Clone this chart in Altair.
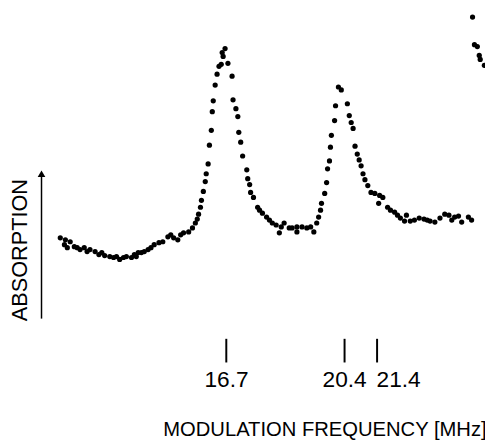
import altair as alt
import pandas as pd

# Frequencies (MHz) and absorption (arbitrary units)
freq = [11.51, 11.64, 11.67, 11.73, 11.82, 11.95, 12.04, 12.13, 12.26, 12.35,
        12.44, 12.60, 12.72, 12.81, 12.90, 13.06, 13.18, 13.27, 13.37, 13.49,
        13.58, 13.74, 13.83, 13.89, 13.95, 14.05, 14.14, 14.26, 14.35, 14.45,
        14.60, 14.72, 14.88, 14.97, 15.06, 15.19, 15.28, 15.37, 15.53, 15.65,
        15.74, 15.80, 15.84, 15.90, 15.93, 15.99, 16.05, 16.08, 16.14, 16.18,
        16.24, 16.27, 16.30, 16.36, 16.42, 16.48, 16.55, 16.58, 16.61, 16.67,
        16.76, 16.89, 16.92, 17.01, 17.07, 17.10, 17.16, 17.22, 17.35, 17.38,
        17.44, 17.47, 17.56, 17.69, 17.75, 17.84, 17.97, 18.06, 18.15, 18.27,
        18.37, 18.43, 18.52, 18.68, 18.77, 18.92, 18.92, 19.08, 19.23, 19.35,
        19.45, 19.54, 19.60, 19.66, 19.69, 19.79, 19.85, 19.88, 19.94, 19.97,
        20.00, 20.10, 20.13, 20.22, 20.31, 20.50, 20.56, 20.62, 20.68, 20.74,
        20.81, 20.87, 20.93, 20.99, 21.05, 21.14, 21.24, 21.36, 21.48, 21.51,
        21.61, 21.76, 21.85, 21.98, 22.07, 22.16, 22.29, 22.35, 22.47, 22.60,
        22.75, 22.90, 23.00, 23.09, 23.24, 23.40, 23.55, 23.68, 23.77, 23.86,
        23.98, 24.08, 24.29, 24.39, 24.42, 24.48, 24.57, 24.63, 24.66, 24.79,
        24.88]

absorption = [0.32, 0.25, 0.30, 0.22, 0.28, 0.23, 0.22, 0.20, 0.22, 0.18,
              0.20, 0.18, 0.15, 0.17, 0.14, 0.13, 0.12, 0.13, 0.10, 0.12,
              0.13, 0.12, 0.15, 0.13, 0.17, 0.17, 0.18, 0.20, 0.22, 0.25,
              0.27, 0.28, 0.33, 0.35, 0.32, 0.30, 0.35, 0.37, 0.38, 0.42,
              0.47, 0.51, 0.56, 0.63, 0.70, 0.79, 0.89, 0.97, 1.07, 1.26,
              1.41, 1.60, 1.71, 1.87, 1.98, 2.06, 2.08, 2.20, 2.16, 2.24,
              2.09, 1.96, 1.72, 1.63, 1.55, 1.39, 1.29, 1.15, 1.01, 0.92,
              0.86, 0.78, 0.73, 0.63, 0.60, 0.57, 0.53, 0.50, 0.47, 0.45,
              0.37, 0.43, 0.47, 0.42, 0.42, 0.43, 0.38, 0.43, 0.42, 0.43,
              0.38, 0.47, 0.53, 0.60, 0.67, 0.77, 0.88, 1.02, 1.10, 1.24,
              1.36, 1.51, 1.66, 1.85, 1.82, 1.68, 1.56, 1.49, 1.43, 1.25,
              1.17, 1.11, 1.05, 0.97, 0.91, 0.85, 0.78, 0.77, 0.67, 0.75,
              0.73, 0.63, 0.60, 0.58, 0.55, 0.52, 0.49, 0.55, 0.49, 0.50,
              0.52, 0.51, 0.50, 0.49, 0.48, 0.52, 0.56, 0.55, 0.50, 0.53,
              0.54, 0.48, 0.53, 0.50, 2.56, 2.28, 2.26, 2.17, 2.13, 2.07,
              2.07]

tick_values = [16.7, 20.4, 21.4]
x_title = "MODULATION FREQUENCY [MHz]"
y_title = "ABSORPTION"

df = pd.DataFrame({"freq": freq, "absorption": absorption})

FONT = "Liberation Sans"

x_scale = alt.Scale(domain=[11.2, 24.81], nice=False, zero=False)
y_scale = alt.Scale(domain=[-0.70, 2.62], nice=False, zero=False)

points = alt.Chart(df).mark_circle(size=28, color="black", opacity=1).encode(
    x=alt.X(
        "freq:Q", scale=x_scale,
        axis=alt.Axis(
            values=tick_values, format=".1f", title=x_title,
            domain=False, grid=False,
            tickSize=24, tickWidth=2, tickColor="black",
            labelFont=FONT, labelFontSize=23, labelColor="black",
            labelPadding=7, labelFlush=False, labelOverlap=False,
            labelAlign={"condition": {"test": "datum.value > 21", "value": "left"},
                        "value": "center"},
            titleFont=FONT, titleFontSize=20.5, titleFontWeight="normal",
            titleColor="black", titleAlign="left", titleBaseline="middle",
            titleX=114, titleY=93,
        ),
    ),
    y=alt.Y(
        "absorption:Q", scale=y_scale,
        axis=alt.Axis(
            title=y_title, domain=False, ticks=False, labels=False, grid=False,
            titleFont=FONT, titleFontSize=22, titleFontWeight="normal",
            titleColor="black", titleAngle=270, titleAlign="center",
            titleBaseline="middle", titleX=-31, titleY=242,
        ),
    ),
)

anchor = pd.DataFrame({"k": [0]})
arrow_shaft = alt.Chart(anchor).mark_rule(color="black", strokeWidth=1.5).encode(
    x=alt.value(-9), y=alt.value(312), y2=alt.value(168)
)
arrow_head = alt.Chart(anchor).mark_point(
    shape="triangle-up", filled=True, size=60, color="black", opacity=1
).encode(x=alt.value(-9), y=alt.value(165))

chart = alt.layer(arrow_shaft, arrow_head, points).properties(
    width=441, height=332,
    autosize=alt.AutoSizeParams(type="none"),
    padding={"left": 43, "top": 0, "right": 0, "bottom": 100},
    background="white",
).configure_view(stroke=None)

chart.save("out.html", embed_options={"renderer": "svg", "actions": False})
